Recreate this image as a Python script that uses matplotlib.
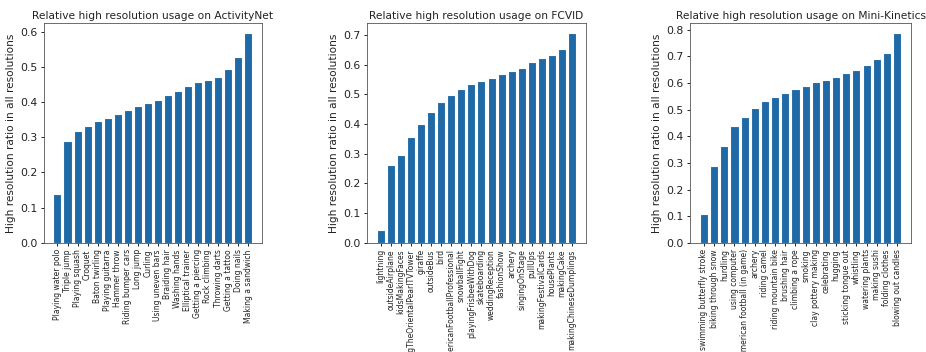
import matplotlib
matplotlib.use("Agg")
import matplotlib.pyplot as plt

activitynet_classes = [
    "Playing water polo", "Triple jump", "Playing squash", "Croquet",
    "Baton twirling", "Playing guitarra", "Hammer throw", "Riding bumper cars",
    "Long jump", "Curling", "Using uneven bars", "Braiding hair",
    "Washing hands", "Elliptical trainer", "Getting a piercing", "Rock climbing",
    "Throwing darts", "Getting a tattoo", "Doing nails", "Making a sandwich",
]
activitynet_ratio = [
    0.140, 0.289, 0.317, 0.332, 0.346, 0.356, 0.366, 0.376, 0.388, 0.397,
    0.407, 0.420, 0.432, 0.445, 0.457, 0.463, 0.471, 0.495, 0.527, 0.595,
]

fcvid_classes = [
    "lightning", "outsideAirplane", "kidsMakingFaces",
    "watchingTheOrientalPearlTVTower", "giraffe", "outsideBus", "bird",
    "americanFootballProfessional", "snowballFight", "playingFrisbeeWithDog",
    "skateboarding", "weddingReception", "fashionShow", "archery",
    "singingOnStage", "pullUps", "makingFestivalCards", "housePlants",
    "makingCake", "makingChineseDumplings",
]
fcvid_ratio = [
    0.043, 0.261, 0.297, 0.356, 0.401, 0.440, 0.473, 0.499, 0.518, 0.533,
    0.544, 0.556, 0.569, 0.578, 0.590, 0.607, 0.623, 0.632, 0.651, 0.705,
]

kinetics_classes = [
    "swimming butterfly stroke", "biking through snow", "hurdling",
    "using computer", "american football (in game)", "archery", "riding camel",
    "riding mountain bike", "brushing hair", "climbing a rope", "smoking",
    "clay pottery making", "celebrating", "hugging", "sticking tongue out",
    "whistling", "watering plants", "making sushi", "folding clothes",
    "blowing out candles",
]
kinetics_ratio = [
    0.110, 0.288, 0.364, 0.439, 0.474, 0.505, 0.532, 0.548, 0.562, 0.577,
    0.589, 0.602, 0.611, 0.623, 0.636, 0.647, 0.667, 0.688, 0.712, 0.786,
]

panels = [
    ("ActivityNet", activitynet_classes, activitynet_ratio),
    ("FCVID", fcvid_classes, fcvid_ratio),
    ("Mini-Kinetics", kinetics_classes, kinetics_ratio),
]

# left edge / width of each axes, in figure fractions
boxes = [(0.047, 0.236), (0.396, 0.237), (0.745, 0.239)]

fig = plt.figure(figsize=(9.26, 3.52), dpi=100)

for (name, classes, ratio), (left, width) in zip(panels, boxes):
    ax = fig.add_axes([left, 0.31, width, 0.625])
    ax.bar(range(len(ratio)), ratio, color="#1f69a6", edgecolor="white", linewidth=0.8)
    ax.set_xticks(range(len(classes)))
    ax.set_xticklabels(classes, rotation=90, fontsize=5.5, color="#222222")
    ax.tick_params(axis="y", labelsize=7.8, labelcolor="#222222")
    ax.tick_params(axis="both", length=2.5, width=0.6, pad=2)
    ax.set_ylabel("High resolution ratio in all resolutions", fontsize=7.6, labelpad=3,
                  color="#222222")
    ax.set_title("Relative high resolution usage on " + name, fontsize=7.7, pad=3,
                 color="#222222")
    for spine in ax.spines.values():
        spine.set_linewidth(0.6)
        spine.set_color("#555555")

fig.savefig("out.png", dpi=100)
